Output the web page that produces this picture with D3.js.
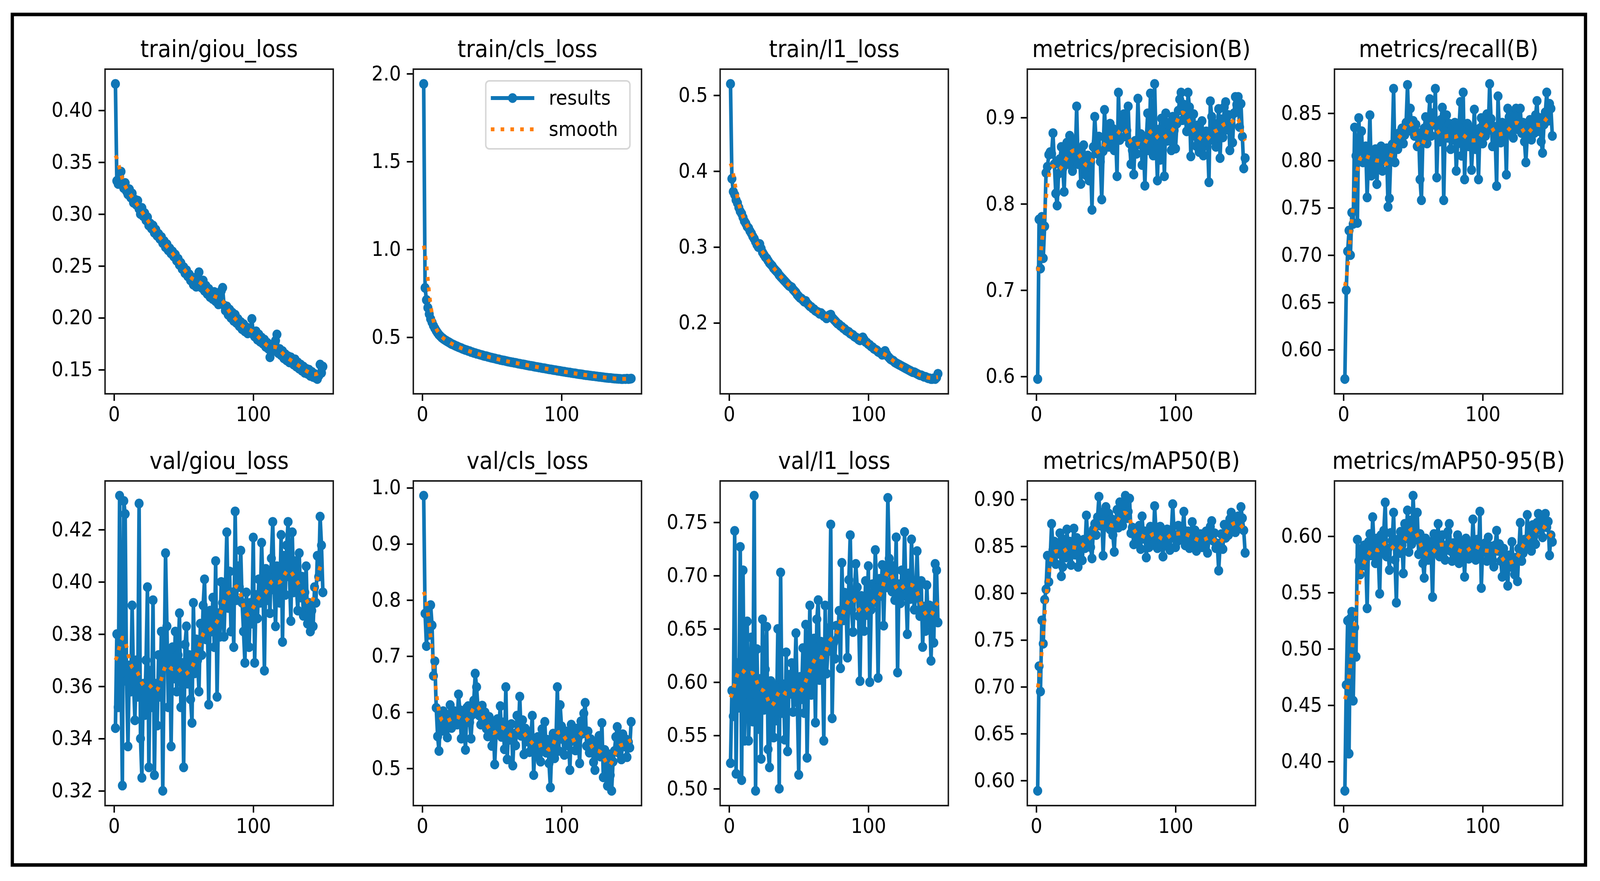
<!DOCTYPE html>
<html>
<head>
<meta charset="utf-8">
<script src="https://cdn.jsdelivr.net/npm/d3@7"></script>
<style>
  html, body { margin: 0; padding: 0; background: #fff; overflow: hidden; }
  svg { display: block; width: 100vw; height: 100vh; font-family: "DejaVu Sans", sans-serif; }
</style>
</head>
<body>
<svg id="chart" viewBox="0 0 4417 2255" preserveAspectRatio="none"></svg>
<script>
// Panel titles, row by row
const titles = [
  'train/giou_loss', 'train/cls_loss', 'train/l1_loss', 'metrics/precision(B)', 'metrics/recall(B)',
  'val/giou_loss', 'val/cls_loss', 'val/l1_loss', 'metrics/mAP50(B)', 'metrics/mAP50-95(B)'
];

// Values per epoch (1..150)
const trainGiou = [
  0.4255, 0.332, 0.329, 0.336, 0.341, 0.328, 0.325, 0.330, 0.322, 0.319,
  0.324, 0.316, 0.320, 0.311, 0.314, 0.309, 0.313, 0.305, 0.300, 0.306,
  0.298, 0.301, 0.294, 0.297, 0.289, 0.291, 0.286, 0.289, 0.282, 0.285,
  0.279, 0.281, 0.276, 0.278, 0.272, 0.274, 0.268, 0.271, 0.265, 0.267,
  0.262, 0.264, 0.259, 0.261, 0.255, 0.257, 0.251, 0.253, 0.247, 0.249,
  0.243, 0.246, 0.240, 0.242, 0.236, 0.239, 0.232, 0.237, 0.230, 0.240,
  0.244, 0.233, 0.229, 0.236, 0.226, 0.231, 0.223, 0.228, 0.220, 0.224,
  0.218, 0.225, 0.216, 0.221, 0.213, 0.219, 0.226, 0.229, 0.212, 0.207,
  0.211, 0.203, 0.208, 0.200, 0.205, 0.197, 0.203, 0.195, 0.199, 0.192,
  0.196, 0.189, 0.194, 0.187, 0.191, 0.185, 0.190, 0.186, 0.199, 0.184,
  0.182, 0.187, 0.179, 0.184, 0.177, 0.181, 0.175, 0.179, 0.172, 0.176,
  0.170, 0.162, 0.174, 0.168, 0.172, 0.178, 0.184, 0.166, 0.170, 0.164,
  0.168, 0.161, 0.165, 0.159, 0.163, 0.157, 0.162, 0.158, 0.155, 0.160,
  0.153, 0.157, 0.151, 0.155, 0.149, 0.153, 0.147, 0.151, 0.146, 0.150,
  0.144, 0.148, 0.143, 0.146, 0.142, 0.141, 0.144, 0.155, 0.147, 0.153
];
const trainCls = [
  1.942, 0.781, 0.712, 0.668, 0.632, 0.604, 0.585, 0.566, 0.551, 0.537,
  0.525, 0.514, 0.506, 0.498, 0.492, 0.486, 0.481, 0.476, 0.472, 0.467,
  0.462, 0.459, 0.455, 0.451, 0.448, 0.444, 0.441, 0.438, 0.434, 0.431,
  0.428, 0.426, 0.422, 0.421, 0.416, 0.415, 0.411, 0.410, 0.406, 0.405,
  0.402, 0.400, 0.398, 0.395, 0.393, 0.392, 0.389, 0.387, 0.385, 0.383,
  0.381, 0.380, 0.377, 0.375, 0.374, 0.371, 0.370, 0.368, 0.367, 0.365,
  0.363, 0.361, 0.360, 0.358, 0.357, 0.355, 0.354, 0.352, 0.350, 0.349,
  0.347, 0.346, 0.345, 0.343, 0.341, 0.340, 0.338, 0.337, 0.336, 0.334,
  0.332, 0.331, 0.330, 0.328, 0.327, 0.325, 0.324, 0.323, 0.321, 0.320,
  0.318, 0.317, 0.316, 0.314, 0.313, 0.312, 0.310, 0.309, 0.308, 0.306,
  0.305, 0.304, 0.302, 0.301, 0.300, 0.299, 0.297, 0.296, 0.295, 0.294,
  0.292, 0.291, 0.290, 0.289, 0.288, 0.286, 0.285, 0.284, 0.283, 0.282,
  0.281, 0.280, 0.279, 0.278, 0.277, 0.276, 0.275, 0.274, 0.273, 0.272,
  0.271, 0.270, 0.269, 0.268, 0.268, 0.267, 0.266, 0.265, 0.265, 0.264,
  0.263, 0.263, 0.262, 0.262, 0.263, 0.262, 0.264, 0.262, 0.263, 0.265
];
const trainL1 = [
  0.515, 0.390, 0.373, 0.369, 0.362, 0.358, 0.352, 0.347, 0.344, 0.339,
  0.334, 0.331, 0.327, 0.325, 0.321, 0.318, 0.314, 0.311, 0.307, 0.303,
  0.300, 0.304, 0.298, 0.293, 0.290, 0.287, 0.285, 0.282, 0.279, 0.277,
  0.275, 0.272, 0.270, 0.268, 0.266, 0.263, 0.261, 0.259, 0.257, 0.255,
  0.253, 0.251, 0.249, 0.248, 0.247, 0.244, 0.242, 0.240, 0.237, 0.235,
  0.233, 0.232, 0.230, 0.228, 0.229, 0.226, 0.224, 0.222, 0.221, 0.219,
  0.218, 0.216, 0.215, 0.214, 0.212, 0.213, 0.211, 0.209, 0.208, 0.206,
  0.208, 0.210, 0.211, 0.207, 0.205, 0.203, 0.201, 0.199, 0.198, 0.196,
  0.195, 0.193, 0.192, 0.190, 0.189, 0.188, 0.186, 0.185, 0.184, 0.182,
  0.181, 0.180, 0.178, 0.177, 0.179, 0.181, 0.178, 0.175, 0.174, 0.172,
  0.171, 0.169, 0.168, 0.166, 0.165, 0.164, 0.162, 0.161, 0.160, 0.158,
  0.160, 0.163, 0.159, 0.156, 0.154, 0.152, 0.151, 0.150, 0.148, 0.147,
  0.146, 0.145, 0.144, 0.143, 0.142, 0.141, 0.140, 0.139, 0.138, 0.137,
  0.136, 0.135, 0.135, 0.134, 0.133, 0.132, 0.131, 0.131, 0.130, 0.129,
  0.129, 0.128, 0.127, 0.127, 0.126, 0.126, 0.127, 0.126, 0.128, 0.133
];
const precision = [
  0.597, 0.782, 0.725, 0.785, 0.737, 0.774, 0.836, 0.843, 0.857, 0.860,
  0.858, 0.882, 0.846, 0.812, 0.798, 0.835, 0.852, 0.866, 0.841, 0.814,
  0.858, 0.871, 0.846, 0.879, 0.862, 0.838, 0.873, 0.852, 0.913, 0.846,
  0.862, 0.823, 0.851, 0.868, 0.840, 0.833, 0.856, 0.827, 0.848, 0.793,
  0.866, 0.901, 0.872, 0.858, 0.878, 0.849, 0.805, 0.861, 0.909, 0.875,
  0.884, 0.866, 0.893, 0.871, 0.887, 0.862, 0.880, 0.832, 0.929, 0.874,
  0.895, 0.889, 0.904, 0.878, 0.885, 0.913, 0.870, 0.846, 0.862, 0.834,
  0.873, 0.858, 0.922, 0.869, 0.881, 0.845, 0.866, 0.821, 0.874, 0.905,
  0.862, 0.928, 0.893, 0.856, 0.939, 0.874, 0.827, 0.886, 0.851, 0.899,
  0.892, 0.832, 0.905, 0.873, 0.894, 0.881, 0.862, 0.901, 0.885, 0.864,
  0.893, 0.908, 0.921, 0.929, 0.897, 0.915, 0.901, 0.884, 0.929, 0.912,
  0.855, 0.883, 0.904, 0.879, 0.867, 0.891, 0.860, 0.875, 0.896, 0.856,
  0.868, 0.884, 0.872, 0.825, 0.919, 0.901, 0.874, 0.893, 0.866, 0.887,
  0.910, 0.853, 0.898, 0.877, 0.912, 0.918, 0.886, 0.903, 0.862, 0.892,
  0.871, 0.905, 0.924, 0.915, 0.924, 0.889, 0.916, 0.878, 0.841, 0.853
];
const recall = [
  0.569, 0.663, 0.704, 0.726, 0.700, 0.745, 0.733, 0.835, 0.805, 0.734,
  0.845, 0.812, 0.831, 0.798, 0.808, 0.815, 0.761, 0.803, 0.848, 0.784,
  0.806, 0.792, 0.812, 0.775, 0.809, 0.797, 0.815, 0.789, 0.811, 0.800,
  0.813, 0.751, 0.760, 0.806, 0.817, 0.876, 0.798, 0.822, 0.812, 0.829,
  0.821, 0.834, 0.818, 0.827, 0.840, 0.880, 0.833, 0.855, 0.831, 0.842,
  0.826, 0.838, 0.815, 0.829, 0.780, 0.758, 0.822, 0.834, 0.846, 0.818,
  0.841, 0.865, 0.826, 0.850, 0.838, 0.876, 0.782, 0.835, 0.820, 0.843,
  0.856, 0.758, 0.831, 0.848, 0.824, 0.839, 0.812, 0.834, 0.822, 0.840,
  0.789, 0.818, 0.835, 0.862, 0.805, 0.872, 0.780, 0.827, 0.839, 0.815,
  0.833, 0.790, 0.821, 0.854, 0.812, 0.828, 0.780, 0.834, 0.845, 0.818,
  0.838, 0.826, 0.849, 0.832, 0.881, 0.844, 0.815, 0.836, 0.822, 0.773,
  0.868, 0.831, 0.819, 0.840, 0.827, 0.835, 0.785, 0.855, 0.846, 0.829,
  0.838, 0.824, 0.850, 0.855, 0.833, 0.842, 0.855, 0.829, 0.840, 0.820,
  0.798, 0.826, 0.835, 0.843, 0.822, 0.837, 0.829, 0.848, 0.863, 0.831,
  0.845, 0.820, 0.808, 0.838, 0.851, 0.872, 0.842, 0.860, 0.855, 0.826
];
const valGiou = [
  0.344, 0.380, 0.352, 0.433, 0.365, 0.322, 0.431, 0.426, 0.362, 0.337,
  0.368, 0.358, 0.391, 0.362, 0.347, 0.370, 0.356, 0.430, 0.340, 0.325,
  0.361, 0.349, 0.370, 0.398, 0.329, 0.366, 0.352, 0.393, 0.326, 0.361,
  0.345, 0.372, 0.356, 0.381, 0.320, 0.368, 0.411, 0.383, 0.352, 0.374,
  0.337, 0.375, 0.363, 0.381, 0.358, 0.372, 0.388, 0.352, 0.369, 0.329,
  0.376, 0.383, 0.361, 0.372, 0.355, 0.346, 0.392, 0.365, 0.378, 0.370,
  0.358, 0.384, 0.372, 0.391, 0.401, 0.378, 0.386, 0.353, 0.389, 0.381,
  0.394, 0.375, 0.408, 0.356, 0.388, 0.379, 0.400, 0.392, 0.379, 0.398,
  0.419, 0.390, 0.404, 0.381, 0.396, 0.375, 0.427, 0.393, 0.406, 0.398,
  0.412, 0.392, 0.381, 0.369, 0.396, 0.388, 0.375, 0.392, 0.384, 0.417,
  0.369, 0.395, 0.386, 0.401, 0.392, 0.415, 0.398, 0.366, 0.405, 0.393,
  0.402, 0.388, 0.409, 0.423, 0.397, 0.383, 0.406, 0.399, 0.392, 0.418,
  0.377, 0.410, 0.395, 0.414, 0.423, 0.402, 0.385, 0.419, 0.396, 0.408,
  0.398, 0.389, 0.411, 0.394, 0.402, 0.387, 0.396, 0.406, 0.384, 0.392,
  0.381, 0.389, 0.383, 0.398, 0.392, 0.410, 0.402, 0.425, 0.414, 0.396
];
const valCls = [
  0.986, 0.776, 0.718, 0.780, 0.738, 0.791, 0.755, 0.665, 0.691, 0.608,
  0.557, 0.531, 0.594, 0.567, 0.602, 0.581, 0.596, 0.555, 0.588, 0.613,
  0.572, 0.583, 0.602, 0.591, 0.578, 0.632, 0.604, 0.553, 0.596, 0.587,
  0.533, 0.608, 0.611, 0.582, 0.553, 0.596, 0.621, 0.669, 0.645, 0.607,
  0.594, 0.578, 0.612, 0.586, 0.600, 0.571, 0.557, 0.592, 0.566, 0.540,
  0.579, 0.507, 0.563, 0.588, 0.575, 0.611, 0.556, 0.582, 0.534, 0.645,
  0.516, 0.572, 0.551, 0.579, 0.505, 0.562, 0.541, 0.594, 0.566, 0.628,
  0.558, 0.586, 0.525, 0.571, 0.548, 0.563, 0.529, 0.557, 0.594, 0.488,
  0.547, 0.521, 0.556, 0.534, 0.512, 0.570, 0.541, 0.583, 0.528, 0.551,
  0.509, 0.466, 0.537, 0.562, 0.518, 0.549, 0.645, 0.531, 0.613, 0.575,
  0.552, 0.524, 0.566, 0.541, 0.558, 0.497, 0.578, 0.549, 0.563, 0.532,
  0.571, 0.555, 0.509, 0.584, 0.562, 0.598, 0.617, 0.540, 0.566, 0.528,
  0.552, 0.537, 0.511, 0.497, 0.546, 0.529, 0.558, 0.521, 0.581, 0.484,
  0.533, 0.502, 0.469, 0.525, 0.488, 0.460, 0.512, 0.531, 0.556, 0.574,
  0.528, 0.549, 0.516, 0.561, 0.539, 0.552, 0.520, 0.547, 0.537, 0.583
];
const valL1 = [
  0.524, 0.592, 0.568, 0.742, 0.514, 0.618, 0.576, 0.727, 0.508, 0.705,
  0.545, 0.612, 0.657, 0.545, 0.588, 0.642, 0.563, 0.775, 0.498, 0.631,
  0.556, 0.603, 0.528, 0.659, 0.574, 0.612, 0.652, 0.537, 0.520, 0.601,
  0.583, 0.548, 0.596, 0.564, 0.650, 0.500, 0.703, 0.571, 0.598, 0.546,
  0.628, 0.535, 0.607, 0.589, 0.618, 0.572, 0.596, 0.646, 0.581, 0.513,
  0.605, 0.584, 0.632, 0.571, 0.654, 0.529, 0.603, 0.672, 0.588, 0.617,
  0.641, 0.562, 0.659, 0.677, 0.602, 0.638, 0.615, 0.545, 0.672, 0.608,
  0.629, 0.651, 0.748, 0.566, 0.637, 0.622, 0.653, 0.641, 0.667, 0.613,
  0.712, 0.658, 0.684, 0.671, 0.623, 0.696, 0.738, 0.668, 0.647, 0.682,
  0.711, 0.689, 0.662, 0.601, 0.681, 0.672, 0.648, 0.695, 0.663, 0.709,
  0.600, 0.668, 0.692, 0.675, 0.724, 0.688, 0.604, 0.697, 0.681, 0.710,
  0.653, 0.702, 0.689, 0.773, 0.716, 0.694, 0.685, 0.709, 0.677, 0.736,
  0.609, 0.692, 0.674, 0.705, 0.681, 0.741, 0.687, 0.645, 0.702, 0.678,
  0.734, 0.691, 0.668, 0.682, 0.723, 0.679, 0.662, 0.695, 0.633, 0.671,
  0.648, 0.691, 0.656, 0.672, 0.620, 0.664, 0.637, 0.711, 0.705, 0.656
];
const mAP50 = [
  0.589, 0.722, 0.695, 0.771, 0.746, 0.793, 0.804, 0.840, 0.812, 0.838,
  0.874, 0.846, 0.855, 0.831, 0.852, 0.842, 0.864, 0.818, 0.828, 0.857,
  0.838, 0.868, 0.846, 0.855, 0.830, 0.851, 0.869, 0.841, 0.859, 0.828,
  0.852, 0.846, 0.835, 0.857, 0.848, 0.883, 0.856, 0.862, 0.849, 0.837,
  0.868, 0.874, 0.862, 0.881, 0.903, 0.872, 0.886, 0.840, 0.879, 0.892,
  0.871, 0.885, 0.868, 0.879, 0.862, 0.844, 0.876, 0.889, 0.870, 0.897,
  0.884, 0.872, 0.895, 0.904, 0.880, 0.887, 0.901, 0.864, 0.870, 0.852,
  0.868, 0.853, 0.861, 0.872, 0.847, 0.882, 0.858, 0.866, 0.838, 0.860,
  0.849, 0.871, 0.864, 0.852, 0.893, 0.866, 0.848, 0.860, 0.871, 0.855,
  0.839, 0.862, 0.851, 0.868, 0.857, 0.846, 0.866, 0.895, 0.862, 0.849,
  0.855, 0.872, 0.861, 0.857, 0.869, 0.887, 0.851, 0.859, 0.866, 0.848,
  0.862, 0.876, 0.853, 0.867, 0.845, 0.858, 0.851, 0.863, 0.849, 0.860,
  0.854, 0.866, 0.843, 0.858, 0.871, 0.877, 0.856, 0.864, 0.848, 0.853,
  0.824, 0.851, 0.863, 0.847, 0.873, 0.859, 0.868, 0.862, 0.879, 0.886,
  0.871, 0.878, 0.865, 0.876, 0.882, 0.869, 0.892, 0.880, 0.867, 0.843
];
const mAP5095 = [
  0.374, 0.468, 0.525, 0.407, 0.527, 0.533, 0.454, 0.519, 0.493, 0.597,
  0.578, 0.566, 0.589, 0.574, 0.592, 0.581, 0.536, 0.595, 0.602, 0.583,
  0.617, 0.590, 0.576, 0.598, 0.583, 0.549, 0.601, 0.587, 0.605, 0.630,
  0.582, 0.589, 0.570, 0.603, 0.596, 0.621, 0.579, 0.541, 0.597, 0.585,
  0.604, 0.592, 0.567, 0.611, 0.598, 0.623, 0.586, 0.614, 0.593, 0.636,
  0.608, 0.597, 0.621, 0.584, 0.602, 0.591, 0.576, 0.563, 0.598, 0.587,
  0.579, 0.595, 0.583, 0.546, 0.602, 0.588, 0.596, 0.611, 0.582, 0.593,
  0.601, 0.586, 0.579, 0.592, 0.604, 0.611, 0.587, 0.578, 0.594, 0.583,
  0.589, 0.601, 0.576, 0.595, 0.583, 0.592, 0.564, 0.598, 0.587, 0.580,
  0.593, 0.584, 0.615, 0.588, 0.579, 0.597, 0.583, 0.622, 0.554, 0.591,
  0.586, 0.594, 0.578, 0.599, 0.585, 0.591, 0.579, 0.573, 0.592, 0.605,
  0.587, 0.593, 0.578, 0.564, 0.589, 0.582, 0.571, 0.556, 0.583, 0.578,
  0.595, 0.572, 0.566, 0.581, 0.560, 0.589, 0.612, 0.578, 0.585, 0.597,
  0.589, 0.619, 0.596, 0.604, 0.587, 0.610, 0.601, 0.593, 0.612, 0.620,
  0.606, 0.612, 0.599, 0.614, 0.620, 0.608, 0.613, 0.583, 0.601, 0.595
];

// Tick values and their labels
const xTicks = [0, 100];
const yTicksTrainGiou = ['0.15', '0.20', '0.25', '0.30', '0.35', '0.40'];
const yTicksTrainCls = ['0.5', '1.0', '1.5', '2.0'];
const yTicksTrainL1 = ['0.2', '0.3', '0.4', '0.5'];
const yTicksPrecision = ['0.6', '0.7', '0.8', '0.9'];
const yTicksRecall = ['0.60', '0.65', '0.70', '0.75', '0.80', '0.85'];
const yTicksValGiou = ['0.32', '0.34', '0.36', '0.38', '0.40', '0.42'];
const yTicksValCls = ['0.5', '0.6', '0.7', '0.8', '0.9', '1.0'];
const yTicksValL1 = ['0.50', '0.55', '0.60', '0.65', '0.70', '0.75'];
const yTicksMAP50 = ['0.60', '0.65', '0.70', '0.75', '0.80', '0.85', '0.90'];
const yTicksMAP5095 = ['0.40', '0.45', '0.50', '0.55', '0.60'];

const series = [trainGiou, trainCls, trainL1, precision, recall, valGiou, valCls, valL1, mAP50, mAP5095];
const yTickLabels = [yTicksTrainGiou, yTicksTrainCls, yTicksTrainL1, yTicksPrecision, yTicksRecall,
  yTicksValGiou, yTicksValCls, yTicksValL1, yTicksMAP50, yTicksMAP5095];

// the orange "smooth" curve is a gaussian filter (sigma 3, reflect edges) of the results, as in the source plot
function gaussianSmooth(y, sigma) {
  const r = Math.round(4 * sigma);
  const w = d3.range(-r, r + 1).map(k => Math.exp(-k * k / (2 * sigma * sigma)));
  const sum = d3.sum(w);
  const n = y.length;
  return y.map((_, i) => {
    let s = 0;
    for (let k = -r; k <= r; k++) {
      let j = i + k;
      if (j < 0) j = -j - 1;
      if (j >= n) j = 2 * n - j - 1;
      s += w[k + r] * y[j];
    }
    return s / sum;
  });
}

const svg = d3.select('#chart');
const blue = '#0f76b6', orange = '#ff7f0e';
const colLeft = [290, 1141, 1988, 2836, 3684];
const rowTop = [177, 1231];
const pw = 630, ph = 831;
const fontTick = 51, fontTitle = 60;
const lineW = 10, markerR = 12.5;

// outer frame around the figure
svg.append('rect')
  .attr('x', 34).attr('y', 37).attr('width', 4343).attr('height', 2177)
  .attr('fill', 'none').attr('stroke', '#000').attr('stroke-width', 9);

series.forEach((values, i) => {
  const g = svg.append('g')
    .attr('transform', `translate(${colLeft[i % 5]},${rowTop[Math.floor(i / 5)]})`);

  const n = values.length;
  const xPad = (n - 1) * 0.05;
  const x = d3.scaleLinear().domain([1 - xPad, n + xPad]).range([0, pw]);
  const [lo, hi] = d3.extent(values);
  const yPad = (hi - lo) * 0.05;
  const y = d3.scaleLinear().domain([lo - yPad, hi + yPad]).range([ph, 0]);

  const line = d3.line().x((d, j) => x(j + 1)).y(d => y(d));

  g.append('path').datum(values)
    .attr('d', line)
    .attr('fill', 'none').attr('stroke', blue)
    .attr('stroke-width', lineW).attr('stroke-linejoin', 'round');

  g.selectAll('circle').data(values).enter().append('circle')
    .attr('cx', (d, j) => x(j + 1)).attr('cy', d => y(d))
    .attr('r', markerR).attr('fill', blue);

  g.append('path').datum(gaussianSmooth(values, 3))
    .attr('d', line)
    .attr('fill', 'none').attr('stroke', orange)
    .attr('stroke-width', lineW).attr('stroke-dasharray', '10 17');

  // axes
  const labels = yTickLabels[i];
  const yAxis = d3.axisLeft(y)
    .tickValues(labels.map(Number))
    .tickFormat((d, j) => labels[j])
    .tickSize(18).tickPadding(16);
  const xAxis = d3.axisBottom(x)
    .tickValues(xTicks)
    .tickFormat(d3.format('d'))
    .tickSize(18).tickPadding(16);

  [g.append('g').call(yAxis), g.append('g').attr('transform', `translate(0,${ph})`).call(xAxis)]
    .forEach(a => {
      a.attr('font-size', fontTick).attr('font-family', '"DejaVu Sans", sans-serif');
      a.select('.domain').remove();
      a.selectAll('.tick line').attr('stroke', '#000').attr('stroke-width', 4);
      a.selectAll('.tick text').attr('fill', '#000');
    });

  g.append('rect')
    .attr('width', pw).attr('height', ph)
    .attr('fill', 'none').attr('stroke', '#1a1a1a').attr('stroke-width', 4);

  g.append('text')
    .attr('x', pw / 2).attr('y', -31)
    .attr('text-anchor', 'middle')
    .attr('font-size', fontTitle).attr('fill', '#000')
    .text(titles[i]);

  // legend sits in the second panel only
  if (i === 1) {
    const lg = g.append('g');
    lg.append('rect')
      .attr('x', 200).attr('y', 30).attr('width', 398).attr('height', 174)
      .attr('rx', 10).attr('fill', '#fff').attr('fill-opacity', 0.8)
      .attr('stroke', '#d6d6d6').attr('stroke-width', 4);
    lg.append('line')
      .attr('x1', 214).attr('x2', 334).attr('y1', 74).attr('y2', 74)
      .attr('stroke', blue).attr('stroke-width', lineW);
    lg.append('circle').attr('cx', 274).attr('cy', 74).attr('r', markerR).attr('fill', blue);
    lg.append('line')
      .attr('x1', 214).attr('x2', 334).attr('y1', 154).attr('y2', 154)
      .attr('stroke', orange).attr('stroke-width', lineW).attr('stroke-dasharray', '10 17');
    lg.append('text').attr('x', 374).attr('y', 91)
      .attr('font-size', fontTick).attr('fill', '#000').text('results');
    lg.append('text').attr('x', 374).attr('y', 171)
      .attr('font-size', fontTick).attr('fill', '#000').text('smooth');
  }
});
</script>
</body>
</html>
